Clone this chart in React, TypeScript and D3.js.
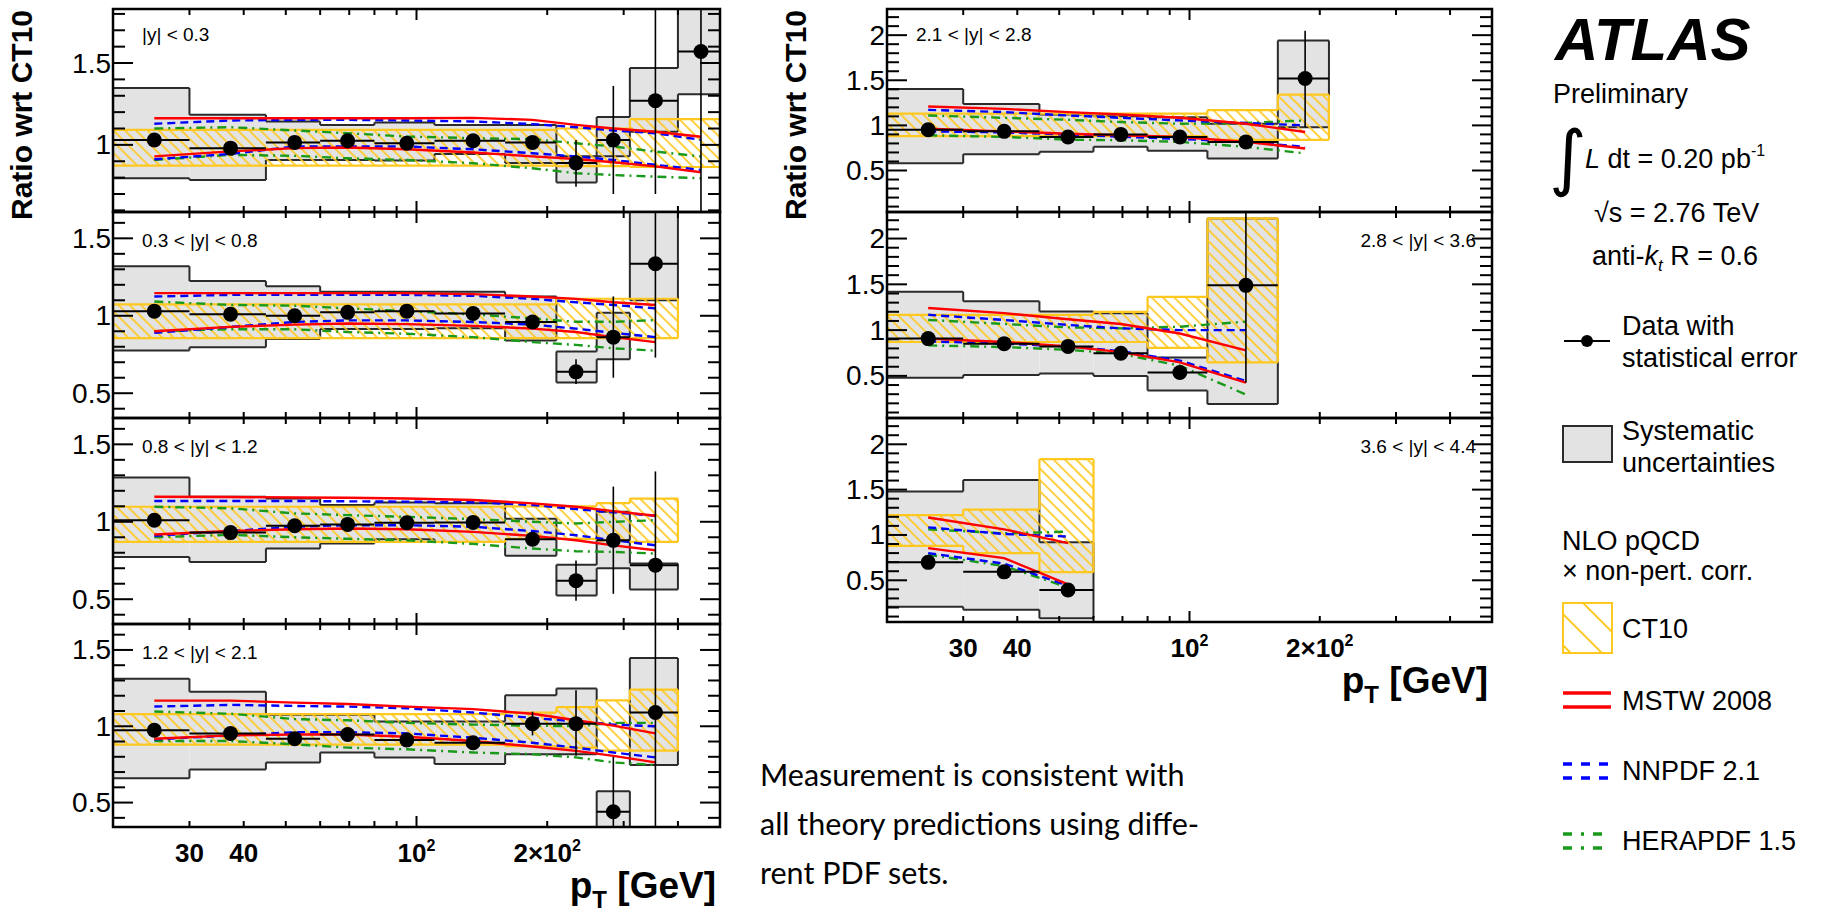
import React from 'react';
import * as d3 from 'd3';

// ---------------- data ----------------
const pTEdges = [20, 30, 45, 60, 80, 110, 160, 210, 260, 310, 400, 500];
const pTCenters = [24.9, 37.3, 52.4, 69.4, 95, 135, 185, 233, 284, 355, 452];
const xMinorTicks = [30, 40, 50, 60, 70, 80, 90, 100, 200, 300, 400];
const xTickLabels = [
  { v: 30, base: '30', sup: '' },
  { v: 40, base: '40', sup: '' },
  { v: 100, base: '10', sup: '2' },
  { v: 200, base: '2×10', sup: '2' },
];

// |y| < 0.3
const a1Data = [1.03, 0.98, 1.015, 1.025, 1.01, 1.025, 1.015, 0.89, 1.03, 1.27, 1.57];
const a1StatLo = [1.02, 0.97, 1.005, 1.015, 1.0, 1.01, 0.985, 0.745, 0.7, 0.7, 0.3];
const a1StatHi = [1.04, 0.99, 1.025, 1.035, 1.02, 1.04, 1.045, 1.03, 1.36, 2.0, 2.5];
const a1SysLo = [0.796, 0.786, 0.908, 0.908, 0.904, 0.945, 0.89, 0.77, 0.93, 1.08, 1.31];
const a1SysHi = [1.347, 1.184, 1.143, 1.122, 1.137, 1.122, 1.122, 0.93, 1.17, 1.47, 1.95];
const a1CtLo = [0.873, 0.873, 0.873, 0.873, 0.873, 0.873, 0.873, 0.87, 0.87, 0.865, 0.865];
const a1CtHi = [1.092, 1.092, 1.092, 1.092, 1.092, 1.092, 1.092, 1.1, 1.1, 1.157, 1.157];
const a1MstwHi = [1.163, 1.163, 1.163, 1.163, 1.163, 1.165, 1.153, 1.122, 1.1, 1.08, 1.05];
const a1MstwLo = [0.93, 0.96, 0.98, 0.984, 0.973, 0.953, 0.93, 0.914, 0.894, 0.869, 0.833];
const a1NnHi = [1.129, 1.149, 1.153, 1.153, 1.149, 1.143, 1.127, 1.108, 1.088, 1.071, 1.031];
const a1NnLo = [0.912, 0.945, 0.99, 0.99, 0.99, 0.973, 0.949, 0.929, 0.908, 0.878, 0.847];
const a1HeraHi = [1.1, 1.108, 1.088, 1.071, 1.051, 1.041, 1.035, 1.01, 0.99, 0.959, 0.929];
const a1HeraLo = [0.908, 0.939, 0.933, 0.918, 0.908, 0.888, 0.857, 0.827, 0.816, 0.806, 0.796];

// 0.3 < |y| < 0.8
const a2Data = [1.03, 1.01, 1.0, 1.022, 1.03, 1.015, 0.96, 0.638, 0.862, 1.336];
const a2StatLo = [1.02, 1.0, 0.99, 1.012, 1.02, 1.0, 0.93, 0.56, 0.6, 0.73];
const a2StatHi = [1.04, 1.02, 1.01, 1.032, 1.04, 1.03, 0.99, 0.72, 1.125, 1.8];
const a2SysLo = [0.775, 0.797, 0.85, 0.915, 0.915, 0.92, 0.84, 0.57, 0.72, 1.1];
const a2SysHi = [1.32, 1.225, 1.19, 1.155, 1.155, 1.155, 1.125, 0.77, 1.02, 1.75];
const a2CtLo = [0.856, 0.856, 0.856, 0.856, 0.856, 0.856, 0.856, 0.856, 0.856, 0.856];
const a2CtHi = [1.074, 1.074, 1.074, 1.074, 1.074, 1.074, 1.074, 1.11, 1.11, 1.11];
const a2MstwHi = [1.146, 1.146, 1.146, 1.146, 1.146, 1.14, 1.124, 1.109, 1.087, 1.07];
const a2MstwLo = [0.9, 0.928, 0.943, 0.95, 0.946, 0.935, 0.917, 0.895, 0.862, 0.83];
const a2NnHi = [1.124, 1.135, 1.135, 1.135, 1.135, 1.129, 1.109, 1.087, 1.07, 1.048];
const a2NnLo = [0.89, 0.928, 0.96, 0.97, 0.97, 0.96, 0.943, 0.917, 0.89, 0.862];
const a2HeraHi = [1.092, 1.07, 1.065, 1.048, 1.03, 1.009, 0.983, 0.961, 0.961, 0.972];
const a2HeraLo = [0.9, 0.913, 0.913, 0.895, 0.884, 0.862, 0.83, 0.812, 0.79, 0.775];

// 0.8 < |y| < 1.2
const a3Data = [1.01, 0.93, 0.974, 0.983, 0.994, 0.996, 0.887, 0.62, 0.88, 0.72];
const a3StatLo = [1.0, 0.92, 0.96, 0.973, 0.984, 0.986, 0.85, 0.49, 0.535, 0.0];
const a3StatHi = [1.02, 0.94, 0.99, 0.993, 1.004, 1.006, 0.92, 0.75, 1.227, 1.325];
const a3SysLo = [0.773, 0.74, 0.827, 0.86, 0.887, 0.87, 0.78, 0.524, 0.7, 0.563];
const a3SysHi = [1.286, 1.162, 1.15, 1.108, 1.125, 1.12, 1.02, 0.723, 1.065, 0.73];
const a3CtLo = [0.87, 0.87, 0.87, 0.87, 0.87, 0.87, 0.89, 0.89, 0.88, 0.87];
const a3CtHi = [1.097, 1.097, 1.097, 1.097, 1.097, 1.097, 1.1, 1.1, 1.12, 1.15];
const a3MstwHi = [1.162, 1.16, 1.157, 1.155, 1.15, 1.141, 1.119, 1.097, 1.069, 1.039];
const a3MstwLo = [0.918, 0.94, 0.952, 0.957, 0.952, 0.935, 0.909, 0.881, 0.848, 0.816];
const a3NnHi = [1.134, 1.134, 1.134, 1.132, 1.13, 1.126, 1.108, 1.082, 1.061, 1.039];
const a3NnLo = [0.91, 0.94, 0.968, 0.978, 0.978, 0.968, 0.94, 0.913, 0.881, 0.848];
const a3HeraHi = [1.097, 1.087, 1.054, 1.043, 1.032, 1.017, 1.0, 0.989, 1.0, 1.01];
const a3HeraLo = [0.9, 0.916, 0.9, 0.89, 0.88, 0.857, 0.827, 0.81, 0.805, 0.795];

// 1.2 < |y| < 2.1
const a4Data = [0.974, 0.953, 0.918, 0.946, 0.91, 0.892, 1.017, 1.017, 0.44, 1.09];
const a4StatLo = [0.964, 0.943, 0.908, 0.936, 0.9, 0.882, 0.94, 0.806, 0.0, 0.0];
const a4StatHi = [0.984, 0.963, 0.928, 0.956, 0.92, 0.902, 1.095, 1.236, 0.8, 2.0];
const a4SysLo = [0.66, 0.716, 0.763, 0.828, 0.796, 0.753, 0.817, 0.817, 0.3, 0.746];
const a4SysHi = [1.312, 1.226, 1.075, 1.075, 1.032, 1.032, 1.204, 1.247, 0.574, 1.447];
const a4CtLo = [0.88, 0.88, 0.88, 0.88, 0.88, 0.88, 0.87, 0.86, 0.84, 0.84];
const a4CtHi = [1.08, 1.08, 1.08, 1.08, 1.08, 1.08, 1.09, 1.125, 1.17, 1.24];
const a4MstwHi = [1.168, 1.168, 1.155, 1.146, 1.129, 1.112, 1.082, 1.039, 1.004, 0.953];
const a4MstwLo = [0.918, 0.94, 0.946, 0.946, 0.931, 0.903, 0.867, 0.839, 0.806, 0.763];
const a4NnHi = [1.129, 1.14, 1.133, 1.129, 1.118, 1.09, 1.054, 1.032, 1.011, 1.0];
const a4NnLo = [0.914, 0.94, 0.961, 0.961, 0.953, 0.925, 0.892, 0.86, 0.828, 0.796];
const a4HeraHi = [1.097, 1.082, 1.047, 1.039, 1.022, 1.011, 1.004, 1.0, 1.022, 1.022];
const a4HeraLo = [0.903, 0.903, 0.882, 0.86, 0.849, 0.828, 0.817, 0.796, 0.763, 0.746];

// 2.1 < |y| < 2.8
const b1Data = [0.952, 0.934, 0.872, 0.9, 0.872, 0.817, 1.52];
const b1StatLo = [0.94, 0.92, 0.86, 0.885, 0.86, 0.8, 0.98];
const b1StatHi = [0.965, 0.948, 0.885, 0.915, 0.885, 0.835, 2.05];
const b1SysLo = [0.58, 0.68, 0.707, 0.762, 0.718, 0.634, 0.98];
const b1SysHi = [1.403, 1.238, 1.12, 1.1, 1.09, 1.018, 1.94];
const b1CtLo = [0.88, 0.88, 0.88, 0.88, 0.88, 0.84, 0.84];
const b1CtHi = [1.13, 1.13, 1.13, 1.13, 1.13, 1.17, 1.34];
const b1MstwHi = [1.209, 1.183, 1.147, 1.121, 1.084, 1.018, 0.927];
const b1MstwLo = [0.963, 0.934, 0.908, 0.89, 0.872, 0.817, 0.744];
const b1NnHi = [1.172, 1.147, 1.11, 1.084, 1.055, 1.026, 1.0];
const b1NnLo = [0.934, 0.923, 0.897, 0.875, 0.85, 0.817, 0.762];
const b1HeraHi = [1.11, 1.084, 1.062, 1.037, 1.018, 1.026, 1.055];
const b1HeraLo = [0.89, 0.872, 0.842, 0.835, 0.817, 0.762, 0.69];

// 2.8 < |y| < 3.6
const b2Data = [0.907, 0.852, 0.822, 0.748, 0.537, 1.489];
const b2StatLo = [0.895, 0.84, 0.81, 0.735, 0.52, 0.426];
const b2StatHi = [0.92, 0.865, 0.835, 0.76, 0.555, 2.5];
const b2SysLo = [0.48, 0.51, 0.526, 0.5, 0.34, 0.193];
const b2SysHi = [1.418, 1.315, 1.204, 1.185, 0.7, 2.22];
const b2CtLo = [0.87, 0.87, 0.87, 0.87, 0.807, 0.648];
const b2CtHi = [1.167, 1.167, 1.167, 1.2, 1.363, 2.22];
const b2MstwHi = [1.241, 1.185, 1.119, 1.067, 0.963, 0.778];
const b2MstwLo = [0.907, 0.87, 0.822, 0.759, 0.648, 0.426];
const b2NnHi = [1.167, 1.111, 1.056, 1.019, 1.0, 1.0];
const b2NnLo = [0.878, 0.852, 0.822, 0.77, 0.667, 0.444];
const b2HeraHi = [1.111, 1.067, 1.03, 1.019, 1.037, 1.093];
const b2HeraLo = [0.833, 0.815, 0.785, 0.741, 0.611, 0.296];

// 3.6 < |y| < 4.4
const b3Data = [0.698, 0.593, 0.393];
const b3StatLo = [0.683, 0.578, 0.378];
const b3StatHi = [0.713, 0.608, 0.408];
const b3SysLo = [0.207, 0.175, 0.08];
const b3SysHi = [1.48, 1.607, 0.92];
const b3CtLo = [0.88, 0.8, 0.589];
const b3CtHi = [1.218, 1.28, 1.836];
const b3MstwHi = [1.193, 1.062, 0.91];
const b3MstwLo = [0.855, 0.745, 0.455];
const b3NnHi = [1.084, 1.011, 0.982];
const b3NnLo = [0.8, 0.684, 0.44];
const b3HeraHi = [1.062, 1.018, 1.036];
const b3HeraLo = [0.782, 0.658, 0.42];

const panelLabels = ['|y| < 0.3', '0.3 < |y| < 0.8', '0.8 < |y| < 1.2', '1.2 < |y| < 2.1',
  '2.1 < |y| < 2.8', '2.8 < |y| < 3.6', '3.6 < |y| < 4.4'];

const panels = [
  { label: panelLabels[0], col: 0, row: 0, domain: [0.59, 1.83], data: a1Data, statLo: a1StatLo, statHi: a1StatHi, sysLo: a1SysLo, sysHi: a1SysHi, ctLo: a1CtLo, ctHi: a1CtHi, mstw: [a1MstwHi, a1MstwLo], nn: [a1NnHi, a1NnLo], hera: [a1HeraHi, a1HeraLo] },
  { label: panelLabels[1], col: 0, row: 1, domain: [0.34, 1.67], data: a2Data, statLo: a2StatLo, statHi: a2StatHi, sysLo: a2SysLo, sysHi: a2SysHi, ctLo: a2CtLo, ctHi: a2CtHi, mstw: [a2MstwHi, a2MstwLo], nn: [a2NnHi, a2NnLo], hera: [a2HeraHi, a2HeraLo] },
  { label: panelLabels[2], col: 0, row: 2, domain: [0.34, 1.67], data: a3Data, statLo: a3StatLo, statHi: a3StatHi, sysLo: a3SysLo, sysHi: a3SysHi, ctLo: a3CtLo, ctHi: a3CtHi, mstw: [a3MstwHi, a3MstwLo], nn: [a3NnHi, a3NnLo], hera: [a3HeraHi, a3HeraLo] },
  { label: panelLabels[3], col: 0, row: 3, domain: [0.34, 1.67], data: a4Data, statLo: a4StatLo, statHi: a4StatHi, sysLo: a4SysLo, sysHi: a4SysHi, ctLo: a4CtLo, ctHi: a4CtHi, mstw: [a4MstwHi, a4MstwLo], nn: [a4NnHi, a4NnLo], hera: [a4HeraHi, a4HeraLo] },
  { label: panelLabels[4], col: 1, row: 0, domain: [0.04, 2.29], data: b1Data, statLo: b1StatLo, statHi: b1StatHi, sysLo: b1SysLo, sysHi: b1SysHi, ctLo: b1CtLo, ctHi: b1CtHi, mstw: [b1MstwHi, b1MstwLo], nn: [b1NnHi, b1NnLo], hera: [b1HeraHi, b1HeraLo] },
  { label: panelLabels[5], col: 1, row: 1, domain: [0.04, 2.29], data: b2Data, statLo: b2StatLo, statHi: b2StatHi, sysLo: b2SysLo, sysHi: b2SysHi, ctLo: b2CtLo, ctHi: b2CtHi, mstw: [b2MstwHi, b2MstwLo], nn: [b2NnHi, b2NnLo], hera: [b2HeraHi, b2HeraLo] },
  { label: panelLabels[6], col: 1, row: 2, domain: [0.04, 2.29], data: b3Data, statLo: b3StatLo, statHi: b3StatHi, sysLo: b3SysLo, sysHi: b3SysHi, ctLo: b3CtLo, ctHi: b3CtHi, mstw: [b3MstwHi, b3MstwLo], nn: [b3NnHi, b3NnLo], hera: [b3HeraHi, b3HeraLo] },
];

// ---------------- layout ----------------
const COLS = [[113, 720], [887, 1492]];
const ROWS = [[9, 212, 418, 624, 827], [9, 212, 418, 622]];
const FONT = "'Liberation Sans', Arial, Helvetica, sans-serif";
const YELLOW = '#ffc81e';
const RED = '#ff0000';
const BLUE = '#0000ff';
const GREEN = '#1a9a1a';

function bandOutline(lo: number[], hi: number[], xs: any, ys: any) {
  const n = lo.length;
  let d = '';
  for (let i = 0; i < n; i++) {
    const xa = xs(pTEdges[i]);
    const xb = xs(pTEdges[i + 1]);
    d += `M${xa},${ys(hi[i])}H${xb}M${xa},${ys(lo[i])}H${xb}`;
  }
  for (let e = 0; e <= n; e++) {
    const x = xs(pTEdges[e]);
    const a = e > 0 ? [lo[e - 1], hi[e - 1]] : null;
    const b = e < n ? [lo[e], hi[e]] : null;
    const segs: number[][] = [];
    if (a && b) {
      if (a[1] < b[0] || b[1] < a[0]) segs.push(a, b);
      else {
        segs.push([Math.min(a[0], b[0]), Math.max(a[0], b[0])]);
        segs.push([Math.min(a[1], b[1]), Math.max(a[1], b[1])]);
      }
    } else if (a) segs.push(a);
    else if (b) segs.push(b);
    for (const s of segs) if (s[1] - s[0] > 1e-6) d += `M${x},${ys(s[0])}V${ys(s[1])}`;
  }
  return d;
}

function fmt(v: number) {
  return Math.abs(v - Math.round(v)) < 1e-6 ? String(Math.round(v)) : v.toFixed(1);
}

function Panel({ p, idx }: { p: any; idx: number }) {
  const [x0, x1] = COLS[p.col];
  const rows = ROWS[p.col];
  const y0 = rows[p.row];
  const y1 = rows[p.row + 1];
  const xs = d3.scaleLog().domain([20, 500]).range([x0, x1]);
  const ys = d3.scaleLinear().domain(p.domain).range([y1, y0]);
  const clipId = `clip${idx}`;
  const line = d3.line<number>().x((_, i) => xs(pTCenters[i])).y((v) => ys(v));
  const [dmin, dmax] = p.domain;
  const yTicks = d3.range(Math.ceil(dmin * 10 - 1e-6), Math.floor(dmax * 10 + 1e-6) + 1).map((k) => k / 10);
  const isMajor = (v: number) => Math.abs(v * 2 - Math.round(v * 2)) < 1e-6;
  const isBottom = p.row === rows.length - 2;
  const isRightLabel = p.col === 1 && p.row > 0;

  return (
    <g>
      <clipPath id={clipId}>
        <rect x={x0} y={y0} width={x1 - x0} height={y1 - y0} />
      </clipPath>
      <g clipPath={`url(#${clipId})`}>
        {p.sysLo.map((lo: number, i: number) => (
          <rect key={'s' + i} x={xs(pTEdges[i])} y={ys(p.sysHi[i])} width={xs(pTEdges[i + 1]) - xs(pTEdges[i])}
            height={ys(lo) - ys(p.sysHi[i])} fill="#e3e3e3" />
        ))}
        <path d={bandOutline(p.sysLo, p.sysHi, xs, ys)} fill="none" stroke="#2b2b2b" strokeWidth={2} />
        {p.ctLo.map((lo: number, i: number) => (
          <rect key={'c' + i} x={xs(pTEdges[i])} y={ys(p.ctHi[i])} width={xs(pTEdges[i + 1]) - xs(pTEdges[i])}
            height={ys(lo) - ys(p.ctHi[i])} fill="url(#hatch)" />
        ))}
        <path d={bandOutline(p.ctLo, p.ctHi, xs, ys)} fill="none" stroke={YELLOW} strokeWidth={2.2} />
        {p.hera.map((arr: number[], k: number) => (
          <path key={'h' + k} d={line(arr) || ''} fill="none" stroke={GREEN} strokeWidth={2.4} strokeDasharray="9,5,2,5" />
        ))}
        {p.nn.map((arr: number[], k: number) => (
          <path key={'n' + k} d={line(arr) || ''} fill="none" stroke={BLUE} strokeWidth={2.4} strokeDasharray="8,5" />
        ))}
        {p.mstw.map((arr: number[], k: number) => (
          <path key={'m' + k} d={line(arr) || ''} fill="none" stroke={RED} strokeWidth={2.4} />
        ))}
        {p.data.map((v: number, i: number) => (
          <g key={'d' + i}>
            <line x1={xs(pTEdges[i])} x2={xs(pTEdges[i + 1])} y1={ys(v)} y2={ys(v)} stroke="#000" strokeWidth={2} />
            <line x1={xs(pTCenters[i])} x2={xs(pTCenters[i])} y1={ys(p.statLo[i])} y2={ys(p.statHi[i])} stroke="#000" strokeWidth={1.6} />
            <circle cx={xs(pTCenters[i])} cy={ys(v)} r={7.5} fill="#000" />
          </g>
        ))}
      </g>
      <rect x={x0} y={y0} width={x1 - x0} height={y1 - y0} fill="none" stroke="#000" strokeWidth={2.5} />
      {yTicks.map((v) => {
        const len = isMajor(v) ? 20 : 12;
        const y = ys(v);
        return (
          <g key={'yt' + v}>
            <line x1={x0} x2={x0 + len} y1={y} y2={y} stroke="#000" strokeWidth={2} />
            <line x1={x1} x2={x1 - len} y1={y} y2={y} stroke="#000" strokeWidth={2} />
          </g>
        );
      })}
      {yTicks.filter(isMajor).map((v) => (
        <text key={'yl' + v} x={x0 - 2} y={ys(v)} textAnchor="end" dominantBaseline="central"
          fontFamily={FONT} fontSize={28} fill="#000">{fmt(v)}</text>
      ))}
      {xMinorTicks.map((t) => {
        const len = t === 100 ? 11 : 6;
        const x = xs(t);
        return (
          <g key={'xt' + t}>
            <line x1={x} x2={x} y1={y1} y2={y1 - len} stroke="#000" strokeWidth={2} />
            <line x1={x} x2={x} y1={y0} y2={y0 + len} stroke="#000" strokeWidth={2} />
          </g>
        );
      })}
      <text x={isRightLabel ? x1 - 16 : x0 + 29} y={p.row === 0 ? y0 + 25 : y0 + 28}
        textAnchor={isRightLabel ? 'end' : 'start'} dominantBaseline="central"
        fontFamily={FONT} fontSize={19} fill="#000">{p.label}</text>
      {isBottom && (
        <g>
          {xTickLabels.map((t) => (
            <text key={'xl' + t.v} x={xs(t.v)} y={y1 + 35} textAnchor="middle" fontFamily={FONT}
              fontSize={26} fontWeight="bold" fill="#000">
              {t.base}
              {t.sup && <tspan dy={-11} fontSize={16}>{t.sup}</tspan>}
            </text>
          ))}
          <text x={x1 - 4} y={y1 + 71} textAnchor="end" fontFamily={FONT} fontSize={37} fontWeight="bold" fill="#000">
            p<tspan dy={10} fontSize={24}>T</tspan><tspan dy={-10}> [GeV]</tspan>
          </text>
        </g>
      )}
      {p.row === 0 && (
        <text transform={`translate(${x0 - (p.col === 0 ? 81 : 81)},${y0 + 1}) rotate(-90)`} textAnchor="end" fontFamily={FONT}
          fontSize={30} fontWeight="bold" fill="#000">Ratio wrt CT10</text>
      )}
    </g>
  );
}

function Legend() {
  const lx = 1563;
  const tx = 1622;
  const fs = 27;
  return (
    <g fontFamily={FONT} fill="#000">
      <text x={1555} y={60} fontSize={60} fontWeight="bold" fontStyle="italic">ATLAS</text>
      <text x={1553} y={103} fontSize={fs}>Preliminary</text>
      <text x={1549} y={182} fontSize={72} fontFamily="'DejaVu Sans', sans-serif">∫</text>
      <text x={1585} y={168} fontSize={fs}>
        <tspan fontStyle="italic">L</tspan> dt = 0.20 pb<tspan dy={-12} fontSize={16}>-1</tspan>
      </text>
      <text x={1594} y={222} fontSize={fs}>√s = 2.76 TeV</text>
      <text x={1592} y={265} fontSize={fs}>
        anti-<tspan fontStyle="italic">k</tspan><tspan fontStyle="italic" fontSize={17} dy={6}>t</tspan><tspan dy={-6}> R = 0.6</tspan>
      </text>

      <line x1={lx + 1} x2={lx + 47} y1={341} y2={341} stroke="#000" strokeWidth={2.2} />
      <circle cx={lx + 24} cy={341} r={6} fill="#000" />
      <text x={tx} y={335} fontSize={fs}>Data with</text>
      <text x={tx} y={367} fontSize={fs}>statistical error</text>

      <rect x={lx} y={426} width={49} height={36} fill="#e3e3e3" stroke="#2b2b2b" strokeWidth={2} />
      <text x={tx} y={440} fontSize={fs}>Systematic</text>
      <text x={tx} y={472} fontSize={fs}>uncertainties</text>

      <text x={1562} y={550} fontSize={fs}>NLO pQCD</text>
      <text x={1562} y={580} fontSize={fs}>× non-pert. corr.</text>

      <rect x={lx} y={603} width={49} height={50} fill="url(#hatchLegend)" stroke={YELLOW} strokeWidth={2} />
      <text x={tx} y={638} fontSize={fs}>CT10</text>

      <line x1={lx} x2={lx + 48} y1={693} y2={693} stroke={RED} strokeWidth={3.5} />
      <line x1={lx} x2={lx + 48} y1={707} y2={707} stroke={RED} strokeWidth={3.5} />
      <text x={tx} y={710} fontSize={fs}>MSTW 2008</text>

      <line x1={lx} x2={lx + 48} y1={764} y2={764} stroke={BLUE} strokeWidth={3.5} strokeDasharray="9,9" />
      <line x1={lx} x2={lx + 48} y1={778} y2={778} stroke={BLUE} strokeWidth={3.5} strokeDasharray="9,9" />
      <text x={tx} y={780} fontSize={fs}>NNPDF 2.1</text>

      <line x1={lx} x2={lx + 48} y1={834} y2={834} stroke={GREEN} strokeWidth={3.5} strokeDasharray="9,9,3,9" />
      <line x1={lx} x2={lx + 48} y1={848} y2={848} stroke={GREEN} strokeWidth={3.5} strokeDasharray="9,9,3,9" />
      <text x={tx} y={850} fontSize={fs}>HERAPDF 1.5</text>
    </g>
  );
}

export default function App() {
  return (
    <svg width={1833} height={915} style={{ position: 'absolute', left: 0, top: 0, background: '#fff' }}>
      <defs>
        <pattern id="hatch" patternUnits="userSpaceOnUse" width={8} height={8} patternTransform="rotate(45)">
          <line x1={0} y1={4} x2={8} y2={4} stroke={YELLOW} strokeWidth={1.7} />
        </pattern>
        <pattern id="hatchLegend" patternUnits="userSpaceOnUse" width={22} height={22} patternTransform="rotate(45)">
          <line x1={0} y1={11} x2={22} y2={11} stroke={YELLOW} strokeWidth={2} />
        </pattern>
      </defs>
      <rect x={0} y={0} width={1833} height={915} fill="#fff" />
      {panels.map((p, i) => (
        <Panel key={i} p={p} idx={i} />
      ))}
      <Legend />
      <g fontFamily="Lato, 'Open Sans', sans-serif" fontSize={30.5} fill="#000">
        <text x={760} y={786}>Measurement is consistent with</text>
        <text x={760} y={835}>all theory predictions using diffe-</text>
        <text x={760} y={884}>rent PDF sets.</text>
      </g>
    </svg>
  );
}
